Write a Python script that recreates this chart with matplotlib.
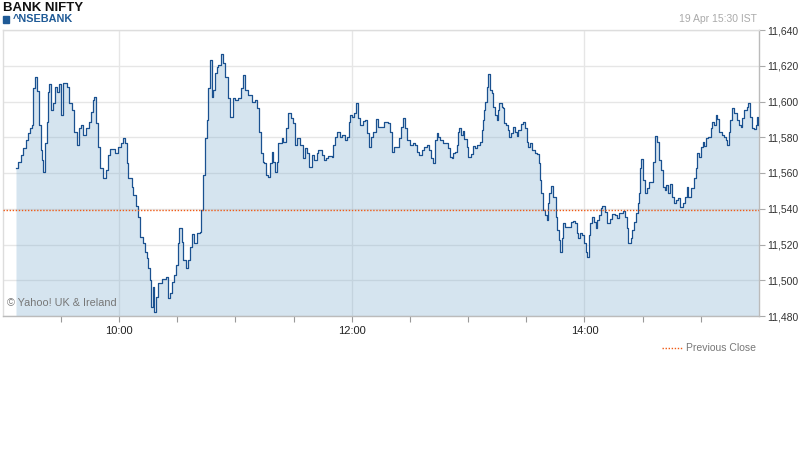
import matplotlib
matplotlib.use("Agg")
import matplotlib.pyplot as plt
from matplotlib.patches import Rectangle
from matplotlib.lines import Line2D
from matplotlib.ticker import FuncFormatter

# minutes after 09:00 IST
minutes = [6.9, 8.1, 9.3, 10.7, 12.1, 13.2, 14.1, 15.0, 15.8, 16.5, 17.6, 18.9, 19.6, 20.5, 21.0,
           21.9, 22.7, 23.6, 24.1, 24.9, 25.8, 27.0, 27.9, 29.1, 30.1, 31.3, 33.0, 34.4, 35.6,
           36.8, 38.2, 39.5, 40.3, 41.3, 43.0, 44.4, 45.4, 46.4, 47.3, 48.1, 49.3, 50.2, 51.9,
           53.3, 54.5, 55.4, 57.9, 59.6, 60.9, 62.2, 63.1, 64.0, 64.8, 66.6, 67.4, 68.8, 70.0,
           70.8, 72.2, 73.4, 74.3, 75.1, 76.0, 76.5, 77.4, 78.2, 79.1, 80.3, 82.0, 84.2, 85.1,
           86.3, 87.2, 88.5, 89.4, 90.3, 91.1, 92.3, 93.2, 94.4, 95.7, 96.6, 97.5, 98.7, 100.1,
           101.8, 102.3, 103.2, 104.3, 105.2, 106.0, 106.9, 107.8, 108.6, 109.5, 110.4, 111.2,
           112.4, 113.5, 114.6, 116.0, 117.2, 118.6, 119.8, 121.5, 122.7, 123.8, 125.0, 126.7,
           128.4, 130.1, 131.3, 132.3, 133.2, 134.1, 134.9, 135.8, 137.0, 137.8, 138.7, 139.5,
           140.4, 141.3, 142.1, 143.9, 144.7, 145.9, 147.3, 148.5, 149.9, 150.7, 151.9, 153.3,
           155.0, 155.9, 157.1, 158.1, 159.3, 160.5, 161.9, 162.7, 164.5, 165.7, 166.7, 167.9,
           169.7, 170.5, 171.5, 172.5, 173.9, 175.1, 176.5, 177.4, 178.4, 179.1, 180.3, 181.1,
           182.2, 183.4, 184.2, 185.6, 186.8, 188.0, 189.0, 189.9, 191.1, 192.3, 193.7, 195.4,
           196.8, 198.8, 199.7, 200.6, 201.8, 203.2, 204.5, 205.4, 206.6, 207.4, 208.6, 210.0,
           211.4, 212.6, 213.5, 214.7, 216.0, 217.2, 218.6, 219.8, 220.7, 221.7, 222.9, 223.8,
           224.6, 225.5, 226.9, 228.2, 229.5, 230.6, 231.5, 232.3, 233.2, 234.1, 234.9, 235.4,
           236.3, 237.2, 238.0, 239.2, 240.1, 241.3, 242.7, 243.5, 244.7, 246.1, 247.0, 247.5,
           248.2, 248.8, 249.6, 250.4, 251.2, 252.1, 252.9, 253.8, 254.7, 255.2, 256.0, 257.3,
           258.1, 258.6, 259.5, 260.4, 261.2, 262.1, 263.3, 264.1, 265.0, 265.8, 267.1, 268.1,
           269.3, 270.2, 271.0, 271.9, 272.8, 274.5, 275.6, 276.4, 277.0, 277.5, 278.4, 279.6,
           280.5, 281.0, 281.7, 282.5, 283.6, 284.8, 285.3, 286.0, 286.7, 287.4, 288.2, 289.1,
           290.0, 291.7, 292.9, 294.2, 295.3, 296.0, 296.8, 297.7, 298.9, 299.8, 300.6, 301.4,
           302.1, 302.8, 303.7, 304.9, 305.7, 306.6, 307.6, 308.5, 309.3, 310.5, 311.7, 313.1,
           314.3, 315.7, 316.6, 317.8, 319.7, 320.9, 321.7, 322.6, 323.8, 324.6, 325.7, 326.5,
           327.4, 328.2, 328.9, 329.4, 330.3, 331.1, 332.3, 333.4, 334.6, 335.4, 336.3, 337.5,
           338.5, 339.4, 340.3, 341.5, 342.3, 343.2, 344.1, 344.9, 346.1, 347.2, 348.0, 349.2,
           350.6, 351.8, 352.7, 353.5, 354.7, 355.7, 356.4, 357.3, 358.1, 359.0, 360.0, 360.9,
           361.7, 362.6, 363.8, 365.0, 365.9, 366.9, 367.8, 368.4, 369.5, 370.7, 371.9, 372.9,
           373.6, 374.5, 375.3, 376.2, 377.0, 378.4, 379.7, 380.5, 381.3, 382.2, 383.6, 384.4,
           385.3, 386.3, 387.4, 388.4, 389.2, 389.7]
price = [11563.0, 11566.3, 11570.1, 11573.8, 11578.5, 11582.2, 11585.0, 11586.9, 11607.4, 11613.5,
         11605.9, 11586.9, 11572.9, 11567.3, 11560.7, 11576.8, 11588.7, 11605.5, 11609.8, 11595.2,
         11599.0, 11608.3, 11605.5, 11609.8, 11592.5, 11610.2, 11608.3, 11599.0, 11595.2, 11583.1,
         11575.7, 11585.0, 11586.9, 11581.3, 11585.0, 11588.7, 11594.3, 11600.8, 11602.4, 11587.8,
         11574.7, 11562.6, 11557.0, 11561.7, 11570.1, 11573.3, 11571.0, 11574.7, 11576.6, 11579.4,
         11576.6, 11565.4, 11557.0, 11552.3, 11547.7, 11541.5, 11535.6, 11524.4, 11520.7, 11516.0,
         11512.5, 11506.7, 11500.1, 11485.2, 11496.4, 11482.4, 11490.8, 11498.3, 11500.5, 11501.7,
         11489.9, 11492.7, 11499.2, 11502.9, 11508.5, 11520.7, 11529.1, 11521.6, 11511.3, 11506.7,
         11511.3, 11518.8, 11525.9, 11520.7, 11526.3, 11527.2, 11539.3, 11558.9, 11579.4, 11589.7,
         11607.4, 11623.2, 11602.7, 11606.4, 11615.8, 11619.5, 11620.4, 11626.6, 11621.4, 11613.9,
         11601.8, 11591.2, 11601.8, 11600.8, 11601.8, 11607.4, 11614.8, 11606.4, 11603.6, 11599.9,
         11600.8, 11596.2, 11583.1, 11571.0, 11566.3, 11565.4, 11558.9, 11557.9, 11565.4, 11571.9,
         11566.3, 11560.7, 11566.3, 11576.6, 11579.4, 11577.5, 11585.0, 11593.7, 11590.6, 11587.8,
         11575.7, 11579.4, 11575.7, 11568.2, 11573.8, 11571.0, 11563.5, 11570.1, 11567.3, 11571.0,
         11572.9, 11570.1, 11567.3, 11568.2, 11569.5, 11569.1, 11575.7, 11580.3, 11583.1, 11580.3,
         11581.3, 11578.5, 11580.3, 11588.7, 11592.5, 11591.2, 11593.4, 11599.0, 11590.6, 11586.9,
         11589.3, 11589.7, 11582.2, 11574.7, 11580.3, 11583.1, 11590.0, 11585.9, 11585.9, 11588.7,
         11587.8, 11583.1, 11571.9, 11574.7, 11574.7, 11579.4, 11585.9, 11590.6, 11585.0, 11578.5,
         11575.7, 11576.6, 11575.7, 11571.9, 11570.1, 11572.9, 11574.7, 11575.7, 11572.9, 11568.2,
         11565.4, 11578.5, 11582.2, 11580.3, 11578.5, 11576.6, 11576.6, 11573.8, 11569.1, 11568.2,
         11571.0, 11571.9, 11575.7, 11583.1, 11585.0, 11581.3, 11583.7, 11578.9, 11574.7, 11569.1,
         11570.6, 11575.1, 11573.8, 11575.7, 11577.5, 11584.1, 11589.7, 11595.2, 11599.9, 11608.3,
         11615.4, 11606.4, 11604.6, 11597.1, 11592.5, 11589.7, 11595.2, 11599.0, 11596.8, 11596.2,
         11587.8, 11586.9, 11584.1, 11580.0, 11582.2, 11585.9, 11583.1, 11580.7, 11584.1, 11587.4,
         11588.7, 11585.0, 11577.5, 11574.7, 11576.6, 11572.9, 11571.4, 11570.6, 11565.4, 11556.1,
         11548.6, 11539.3, 11536.5, 11533.7, 11543.1, 11548.6, 11552.7, 11546.7, 11546.7, 11535.6,
         11528.1, 11522.5, 11516.0, 11523.5, 11531.9, 11530.0, 11530.0, 11532.8, 11533.2, 11532.2,
         11526.3, 11523.5, 11526.3, 11525.3, 11520.7, 11516.0, 11513.2, 11525.3, 11531.9, 11535.6,
         11532.8, 11529.1, 11533.7, 11536.5, 11540.3, 11541.5, 11538.4, 11531.9, 11534.1, 11537.1,
         11536.5, 11534.7, 11537.8, 11538.9, 11535.6, 11529.1, 11520.7, 11523.5, 11528.1, 11532.8,
         11537.5, 11543.1, 11549.0, 11562.6, 11567.7, 11556.1, 11548.6, 11551.4, 11555.1, 11555.1,
         11566.3, 11580.7, 11577.5, 11567.3, 11561.7, 11552.0, 11550.5, 11553.3, 11548.6, 11553.9,
         11546.7, 11543.1, 11544.9, 11545.9, 11541.2, 11543.1, 11546.7, 11552.3, 11546.7, 11551.4,
         11551.4, 11557.0, 11562.6, 11571.0, 11569.1, 11574.7, 11577.5, 11575.1, 11579.8, 11580.0,
         11585.0, 11588.7, 11586.9, 11592.5, 11590.0, 11583.1, 11581.3, 11580.3, 11578.5, 11575.7,
         11583.1, 11589.7, 11596.2, 11593.7, 11589.7, 11586.9, 11585.9, 11590.6, 11595.2, 11597.1,
         11599.3, 11591.5, 11585.0, 11584.5, 11586.9, 11591.5, 11586.9]

prev_close = 11539.5
y_ticks = [11480, 11500, 11520, 11540, 11560, 11580, 11600, 11620, 11640]
x_tick_pos = [60, 180, 300]
x_tick_labels = ["10:00", "12:00", "14:00"]

fig = plt.figure(figsize=(8, 4.75), dpi=100)
ax = fig.add_axes([2.6 / 800, 1 - 316 / 475, (759 - 2.6) / 800, 286 / 475])

ax.set_xlim(0, 390)
ax.set_ylim(11480, 11640)
ax.set_axisbelow(True)

# grid
ax.set_yticks(y_ticks)
ax.yaxis.grid(True, color="#e6e6e6", lw=1)
for xp in x_tick_pos:
    ax.axvline(xp, color="#e6e6e6", lw=1, zorder=0.5)

ax.fill_between(minutes, price, 11480, step="post", color="#76a8cd", alpha=0.3, lw=0, zorder=1)
ax.plot(minutes, price, drawstyle="steps-post", color="#1a5190", lw=0.9, zorder=3)
ax.axhline(prev_close, color="#f05a14", lw=1, ls=(0, (1, 1.2)), zorder=4)

# axes styling
ax.yaxis.tick_right()
ax.yaxis.set_major_formatter(FuncFormatter(lambda v, p: f"{int(v):,}"))
ax.tick_params(axis="y", length=4, width=0.8, color="#aaaaaa", labelsize=7.5, pad=2,
               labelcolor="#333333")
ticks30 = list(range(30, 390, 30))
ax.set_xticks(ticks30)
ax.set_xticklabels([x_tick_labels[x_tick_pos.index(t)] if t in x_tick_pos else ""
                    for t in ticks30])
ax.tick_params(axis="x", length=4, width=0.8, color="#999999", labelsize=8, pad=3,
               labelcolor="#222222")
for s in ["left", "top"]:
    ax.spines[s].set_color("#dddddd")
    ax.spines[s].set_linewidth(1)
for s in ["right", "bottom"]:
    ax.spines[s].set_color("#bbbbbb")
    ax.spines[s].set_linewidth(1)

ax.text(0.006, 0.035, "\u00a9 Yahoo! UK & Ireland", transform=ax.transAxes,
        fontsize=7.8, color="#777777", family="Liberation Sans", zorder=5)

# header
fig.text(3 / 800, 1 - 8 / 475, "BANK NIFTY", fontsize=9.5, fontweight="bold",
         color="#111111", va="center", ha="left", family="Liberation Sans")
fig.patches.append(Rectangle((3 / 800, 1 - 23 / 475), 6 / 800, 7 / 475,
                             transform=fig.transFigure, color="#1f5a96"))
fig.text(13 / 800, 1 - 19.5 / 475, "^NSEBANK", fontsize=7.8, fontweight="bold",
         color="#1f5a96", va="center", ha="left", family="Liberation Sans")
fig.text(757 / 800, 1 - 19 / 475, "19 Apr 15:30 IST", fontsize=7.5, color="#aaaaaa",
         va="center", ha="right", family="Liberation Sans")

# legend
fig.add_artist(Line2D([662 / 800, 683 / 800], [1 - 348 / 475, 1 - 348 / 475],
                      transform=fig.transFigure, color="#f05a14", lw=1, ls=(0, (1, 1.2))))
fig.text(756 / 800, 1 - 348 / 475, "Previous Close", fontsize=7.5, color="#777777",
         va="center", ha="right", family="Liberation Sans")

for lbl in ax.get_xticklabels() + ax.get_yticklabels():
    lbl.set_family("Liberation Sans")

fig.savefig("out.png", dpi=100)
